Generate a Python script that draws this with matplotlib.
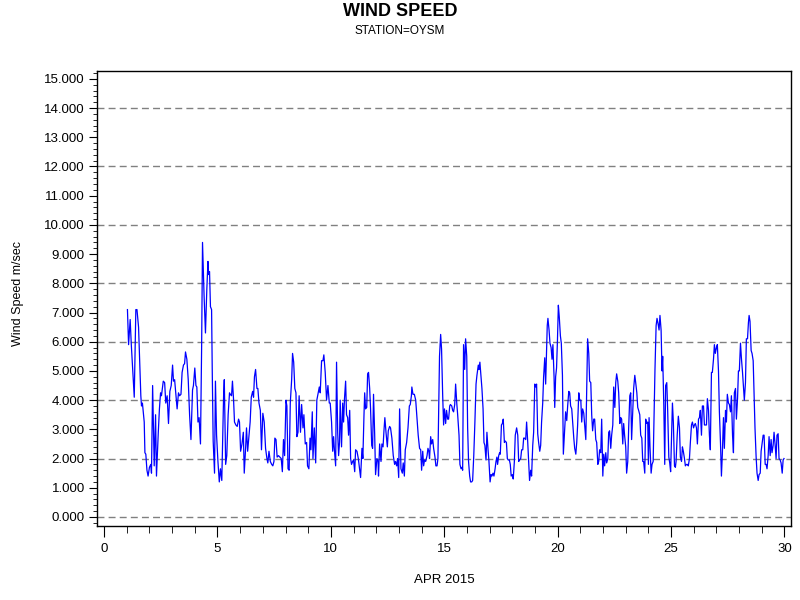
import matplotlib
matplotlib.use("Agg")
import matplotlib.pyplot as plt
from matplotlib.ticker import MultipleLocator, FormatStrFormatter

plt.rcParams['font.family'] = ['Liberation Sans', 'DejaVu Sans']

# hourly-ish wind speed readings, April 2015 (day of month, m/sec)
days = [
    1.03, 1.08, 1.15, 1.20, 1.33, 1.40, 1.45, 1.52, 1.62, 1.65, 1.69, 1.77, 1.80, 1.84, 1.89, 1.94,
    2.00, 2.06, 2.09, 2.14, 2.21, 2.27, 2.31, 2.39, 2.44, 2.49, 2.53, 2.61, 2.67, 2.72, 2.78, 2.84,
    2.90, 2.96, 3.02, 3.06, 3.11, 3.16, 3.22, 3.28, 3.33, 3.39, 3.44, 3.50, 3.55, 3.59, 3.65, 3.71,
    3.77, 3.83, 3.90, 3.94, 4.00, 4.05, 4.09, 4.14, 4.19, 4.25, 4.30, 4.34, 4.41, 4.47, 4.53, 4.58,
    4.61, 4.65, 4.69, 4.74, 4.77, 4.81, 4.87, 4.91, 4.96, 5.02, 5.08, 5.13, 5.19, 5.27, 5.30, 5.36,
    5.41, 5.47, 5.53,
    5.56, 5.62, 5.66, 5.71, 5.75, 5.81, 5.87, 5.93, 5.97, 6.02, 6.08, 6.14, 6.18, 6.24, 6.28, 6.33,
    6.39, 6.44, 6.49, 6.55, 6.59, 6.63, 6.68, 6.74, 6.78, 6.83, 6.89, 6.94, 7.00, 7.06, 7.12, 7.18,
    7.22, 7.27, 7.33, 7.39, 7.44, 7.49, 7.53, 7.58, 7.63, 7.69, 7.75, 7.81, 7.86, 7.91, 7.96, 8.02,
    8.06, 8.11, 8.16, 8.21, 8.27, 8.31, 8.36, 8.41, 8.46, 8.50, 8.55, 8.60, 8.66, 8.71, 8.77, 8.81,
    8.87, 8.93, 8.97, 9.03, 9.08, 9.12, 9.18, 9.21, 9.27, 9.33, 9.38, 9.44, 9.49, 9.53, 9.59, 9.65,
    9.69, 9.75, 9.81, 9.87, 9.93, 9.97, 10.03, 10.08, 10.12, 10.16, 10.21, 10.25, 10.30, 10.34, 10.38,
    10.41, 10.47, 10.52, 10.56, 10.60, 10.65, 10.69, 10.74, 10.78, 10.83, 10.87, 10.91, 10.96, 11.00,
    11.05, 11.09, 11.15, 11.21, 11.27, 11.31, 11.37, 11.41, 11.46, 11.49, 11.53, 11.58, 11.62, 11.66,
    11.71, 11.75, 11.80, 11.84, 11.88, 11.93, 11.97, 12.03, 12.08, 12.10, 12.15, 12.21, 12.25, 12.30,
    12.34, 12.38, 12.43, 12.49, 12.53, 12.59, 12.63, 12.69, 12.75, 12.81, 12.85, 12.90, 12.94, 12.99,
    13.03, 13.09, 13.15, 13.19, 13.24, 13.28, 13.34, 13.40, 13.46, 13.50, 13.55, 13.57, 13.62, 13.68,
    13.74, 13.80, 13.85, 13.91, 13.96, 14.00, 14.05, 14.09, 14.13, 14.18, 14.24, 14.28, 14.32, 14.35,
    14.40, 14.44, 14.49, 14.53, 14.59, 14.63, 14.68, 14.72, 14.77, 14.79, 14.84, 14.88, 14.93, 14.97,
    15.01, 15.06, 15.10, 15.15, 15.19, 15.24,
    15.27, 15.33, 15.37, 15.41, 15.46, 15.50, 15.55, 15.59, 15.65, 15.69, 15.74, 15.78, 15.81, 15.85,
    15.90, 15.94, 15.99, 16.03, 16.07, 16.12, 16.16, 16.21, 16.25, 16.30, 16.35, 16.40, 16.44, 16.50,
    16.53, 16.57, 16.62, 16.66, 16.71, 16.75, 16.79, 16.84, 16.88, 16.93, 16.97, 17.02, 17.06, 17.10,
    17.15, 17.19, 17.24, 17.28, 17.32, 17.35, 17.40, 17.44, 17.47, 17.52, 17.56, 17.60, 17.65, 17.69,
    17.74, 17.78, 17.82, 17.87, 17.91, 17.95, 18.00, 18.04, 18.09, 18.13, 18.19, 18.24, 18.28, 18.32,
    18.37, 18.41, 18.46, 18.50, 18.54, 18.59, 18.63, 18.68, 18.72, 18.76, 18.81, 18.85, 18.90, 18.94,
    18.99, 19.03, 19.07, 19.12, 19.16, 19.21, 19.25, 19.29, 19.34, 19.38, 19.43, 19.47, 19.51, 19.54,
    19.57, 19.62, 19.66, 19.71, 19.75, 19.79, 19.84, 19.87, 19.91, 19.95, 19.99, 20.03, 20.07, 20.12,
    20.16, 20.21, 20.25,
    20.31, 20.35, 20.40, 20.44, 20.49, 20.53, 20.57, 20.62, 20.66, 20.71, 20.75, 20.80, 20.84, 20.88,
    20.93, 20.97, 21.02, 21.06, 21.10, 21.15, 21.19, 21.24, 21.28, 21.32, 21.37, 21.41, 21.46, 21.50,
    21.54, 21.59, 21.63, 21.68, 21.72, 21.77, 21.81, 21.85, 21.90, 21.94, 21.99, 22.03, 22.07, 22.12,
    22.16, 22.21, 22.25, 22.29, 22.34, 22.38, 22.43, 22.47, 22.52, 22.56, 22.60, 22.65, 22.69, 22.74,
    22.78, 22.82, 22.87, 22.91, 22.95, 23.00, 23.04, 23.09, 23.13, 23.18, 23.22, 23.26, 23.31, 23.35,
    23.40, 23.44, 23.49, 23.53, 23.57, 23.62, 23.66, 23.71, 23.75, 23.79, 23.84, 23.88, 23.93, 23.97,
    24.00, 24.03, 24.07, 24.12, 24.16, 24.21, 24.25, 24.29, 24.34, 24.38, 24.43, 24.47, 24.51, 24.56,
    24.60, 24.63, 24.68, 24.72, 24.76, 24.81, 24.85, 24.90, 24.94, 24.98, 25.03, 25.06, 25.10, 25.15,
    25.19,
    25.22, 25.27, 25.32, 25.37, 25.41, 25.46, 25.50, 25.54, 25.59, 25.63, 25.68, 25.72, 25.76, 25.81,
    25.85, 25.90, 25.94, 25.99, 26.03, 26.07, 26.12, 26.16, 26.21, 26.25, 26.29, 26.34, 26.38, 26.43,
    26.47, 26.51, 26.56, 26.60, 26.65, 26.69, 26.73, 26.78, 26.82, 26.87, 26.91, 26.95, 27.00, 27.04,
    27.09, 27.13, 27.18, 27.22, 27.26, 27.31, 27.35, 27.40, 27.44, 27.48, 27.53, 27.57, 27.62, 27.66,
    27.71, 27.75, 27.79, 27.84, 27.88, 27.93, 27.97, 28.01, 28.06, 28.10, 28.15, 28.19, 28.23, 28.28,
    28.32, 28.37, 28.41, 28.44, 28.48, 28.53, 28.57, 28.62, 28.66, 28.70, 28.75, 28.79, 28.84, 28.88,
    28.93, 28.97, 29.01, 29.06, 29.10, 29.15, 29.19, 29.23, 29.28, 29.32, 29.37, 29.41, 29.45, 29.50,
    29.54, 29.59, 29.63, 29.67, 29.72, 29.76, 29.81, 29.85, 29.90, 29.94, 29.98,
]

speed = [
    7.10, 5.90, 6.76, 5.90, 4.10, 7.10, 7.10, 6.50, 4.15, 3.80, 3.90, 3.25, 2.20, 2.15, 1.60, 1.40,
    1.70, 1.80, 1.50, 4.50, 1.75, 3.50, 1.40, 2.90, 3.70, 4.25, 4.15, 4.65, 4.60, 3.90, 4.15, 3.20,
    4.30, 4.50, 5.20, 4.65, 4.70, 4.25, 3.70, 4.25, 4.15, 4.20, 4.95, 5.20, 5.25, 5.65, 5.40, 4.70,
    3.50, 2.65, 4.35, 4.50, 5.10, 4.50, 4.45, 3.25, 3.40, 2.50, 5.75, 9.40, 7.55, 6.30, 7.80, 8.75,
    8.30, 8.40, 7.20, 7.10, 4.95, 2.60, 1.50, 4.65, 2.80, 1.90, 1.20, 1.65, 1.25, 4.15, 4.70, 1.80,
    2.10, 3.50, 4.25,
    4.20, 4.15, 4.65, 4.00, 3.25, 3.15, 3.10, 3.35, 3.25, 2.25, 2.50, 2.90, 1.50, 2.35, 3.05, 2.25,
    2.80, 3.25, 4.10, 4.30, 4.10, 4.80, 5.05, 4.40, 4.40, 3.90, 3.65, 2.30, 3.55, 3.25, 2.35, 2.00,
    1.85, 2.25, 1.90, 1.80, 1.75, 1.90, 2.70, 2.65, 2.05, 2.10, 2.05, 2.00, 1.55, 2.65, 2.10, 4.00,
    3.80, 1.65, 1.60, 3.90, 4.70, 5.60, 5.30, 4.40, 4.25, 2.75, 2.90, 4.15, 2.90, 3.85, 3.05, 3.50,
    2.50, 2.55, 1.75, 1.65, 2.70, 2.30, 3.60, 2.00, 3.05, 1.85, 4.00, 4.25, 4.45, 4.25, 5.35, 5.35,
    5.55, 4.95, 4.00, 4.50, 3.90, 3.90, 3.25, 2.25, 2.75, 2.25, 1.75, 5.30, 2.90, 2.10, 2.55,
    4.00, 2.40, 3.90, 3.25, 4.05, 4.65, 3.50, 3.40, 2.80, 3.65, 2.00, 1.80, 1.90, 1.95,
    1.55, 2.30, 2.25, 2.00, 1.60, 1.35, 2.35, 2.00, 3.50, 4.25, 3.70, 3.75, 4.90, 4.95,
    4.40, 3.70, 2.45, 2.35, 4.20, 2.85, 1.45, 2.00, 1.90, 1.40, 2.50, 1.90, 2.50, 2.40,
    2.95, 3.40, 2.90, 2.40, 2.95, 3.10, 3.05, 2.70, 2.10, 1.80, 1.90, 1.75, 2.00, 1.35,
    3.70, 1.65, 1.50, 1.85, 1.40, 2.30, 2.55, 3.05, 3.80, 3.85, 4.15, 4.45, 4.20, 4.20,
    4.00, 3.35, 2.80, 2.35, 2.30, 1.60, 2.25, 1.75, 1.95, 1.90, 2.10, 2.35, 2.25, 2.00,
    2.75, 2.50, 2.65, 2.35, 2.05, 1.75, 1.75, 2.00, 4.40, 5.50, 6.25, 5.75, 4.15, 3.15,
    3.70, 3.20, 3.65, 3.35, 3.35, 3.80,
    3.85, 3.80, 3.65, 3.60, 3.85, 4.55, 3.90, 3.50, 2.80, 1.80, 1.65, 1.70, 1.60, 5.90,
    5.05, 6.10, 5.50, 3.05, 1.90, 1.40, 1.20, 1.20, 1.25, 2.10, 3.25, 4.55, 4.85, 5.20,
    5.05, 5.30, 4.80, 4.40, 3.70, 2.55, 2.45, 1.95, 2.90, 2.30, 1.90, 1.20, 1.45, 1.40,
    1.50, 1.40, 1.65, 1.90, 2.05, 1.80, 2.10, 2.20, 2.15, 3.15, 3.20, 3.35, 2.55, 2.60,
    2.55, 2.00, 1.95, 1.95, 1.80, 1.40, 1.45, 1.30, 1.90, 2.80, 3.05, 2.80, 1.90, 1.95,
    2.00, 2.30, 2.30, 2.70, 2.70, 2.65, 3.25, 2.55, 1.90, 1.25, 1.60, 1.40, 2.45, 2.90,
    4.55, 4.45, 4.55, 2.85, 2.55, 2.25, 2.45, 3.25, 3.90, 4.80, 5.45, 4.55, 5.75, 6.55,
    6.80, 6.40, 5.95, 5.80, 5.40, 5.90, 4.80, 3.75, 4.80, 5.10, 6.05, 7.25, 6.85, 6.20,
    5.95, 4.85, 2.15,
    3.05, 3.60, 3.30, 3.80, 4.30, 4.25, 3.80, 3.70, 3.25, 2.70, 2.35, 2.15, 2.55, 3.15,
    4.25, 4.00, 4.00, 3.25, 3.70, 3.55, 3.15, 2.65, 4.40, 6.10, 5.60, 4.65, 4.60, 3.50,
    2.95, 3.35, 3.35, 2.65, 2.55, 1.80, 1.90, 2.30, 2.20, 3.35, 1.40, 2.15, 1.75, 2.20,
    1.85, 2.00, 2.90, 2.95, 2.35, 2.80, 3.15, 4.45, 3.75, 4.60, 4.90, 4.65, 4.25, 3.20,
    3.40, 3.35, 2.50, 3.20, 2.80, 2.40, 1.50, 1.90, 3.05, 4.15, 4.25, 2.65, 3.65, 4.40,
    4.85, 4.60, 4.25, 3.75, 3.65, 3.50, 2.80, 2.70, 1.90, 1.90, 1.50, 3.35, 3.20, 3.25,
    1.80, 3.40, 2.40, 1.50, 1.80, 1.90, 3.50, 5.05, 6.55, 6.80, 6.60, 6.40, 6.90, 6.40,
    5.00, 5.50, 3.80, 1.80, 4.50, 4.60, 3.65, 2.05, 1.85, 1.55, 3.05, 3.90, 3.25, 1.75,
    1.70,
    1.90, 2.80, 3.45, 3.05, 2.05, 1.90, 2.40, 2.25, 2.00, 1.75, 1.80, 1.80, 1.75, 2.00,
    2.55, 3.15, 3.25, 3.05, 3.15, 3.20, 3.05, 2.50, 3.35, 3.40, 3.65, 2.80, 3.80, 3.80,
    3.15, 3.15, 3.15, 4.05, 3.65, 2.80, 2.30, 4.95, 4.95, 5.40, 5.90, 5.60, 5.80, 5.90,
    5.00, 3.60, 2.50, 1.40, 2.15, 3.40, 2.35, 3.65, 3.25, 4.20, 3.90, 3.85, 3.60, 4.15,
    2.80, 2.20, 4.25, 4.40, 3.35, 4.05, 5.00, 5.00, 5.95, 5.45, 4.95, 4.50, 4.00, 4.60,
    6.10, 6.10, 6.65, 6.90, 6.70, 5.70, 5.60, 5.35, 4.15, 3.05, 2.05, 1.50, 1.25, 1.45,
    1.50, 2.25, 2.50, 2.80, 2.80, 1.80, 1.80, 1.65, 2.10, 2.75, 2.10, 2.65, 2.20, 2.45,
    2.90, 2.45, 2.00, 2.80, 2.85, 2.00, 1.95, 1.85, 1.50, 1.95, 2.00,
]

title = "WIND SPEED"
subtitle = "STATION=OYSM"
x_label = "APR 2015"
y_label = "Wind Speed m/sec"

fig = plt.figure(figsize=(8, 6), dpi=100)
ax = fig.add_axes([0.1216, 0.1233, 0.8675, 0.7584])

ax.plot(days, speed, color='#0000ff', linewidth=0.9)

ax.set_xlim(-0.30, 30.30)
ax.set_ylim(-0.31, 15.27)

ax.xaxis.set_major_locator(MultipleLocator(5))
ax.xaxis.set_minor_locator(MultipleLocator(1))
ax.yaxis.set_major_locator(MultipleLocator(1))
ax.yaxis.set_minor_locator(MultipleLocator(0.2))
ax.yaxis.set_major_formatter(FormatStrFormatter('%.3f'))

ax.tick_params(axis='both', which='major', direction='out', labelsize=9.5, colors='black')
ax.tick_params(axis='x', which='major', length=8, pad=4)
ax.tick_params(axis='x', which='minor', length=5)
ax.tick_params(axis='y', which='major', length=6, pad=3)
ax.tick_params(axis='y', which='minor', length=3)

# dashed reference lines every 2 m/sec
for level in range(0, 15, 2):
    ax.axhline(level, color='#808080', linewidth=1, linestyle=(0, (5, 3)), zorder=0)

for spine in ax.spines.values():
    spine.set_linewidth(1)

fig.text(0.5, 1 - 11 / 600, title, ha='center', va='center', fontsize=13, fontweight='bold')
fig.text(0.5, 1 - 31 / 600, subtitle, ha='center', va='center', fontsize=8.5)
fig.text(0.555, 1 - 580 / 600, x_label, ha='center', va='center', fontsize=9.5)
fig.text(18 / 800, 1 - 293 / 600, y_label, ha='center', va='center', rotation=90, fontsize=9)

fig.savefig('out.png', dpi=100)
